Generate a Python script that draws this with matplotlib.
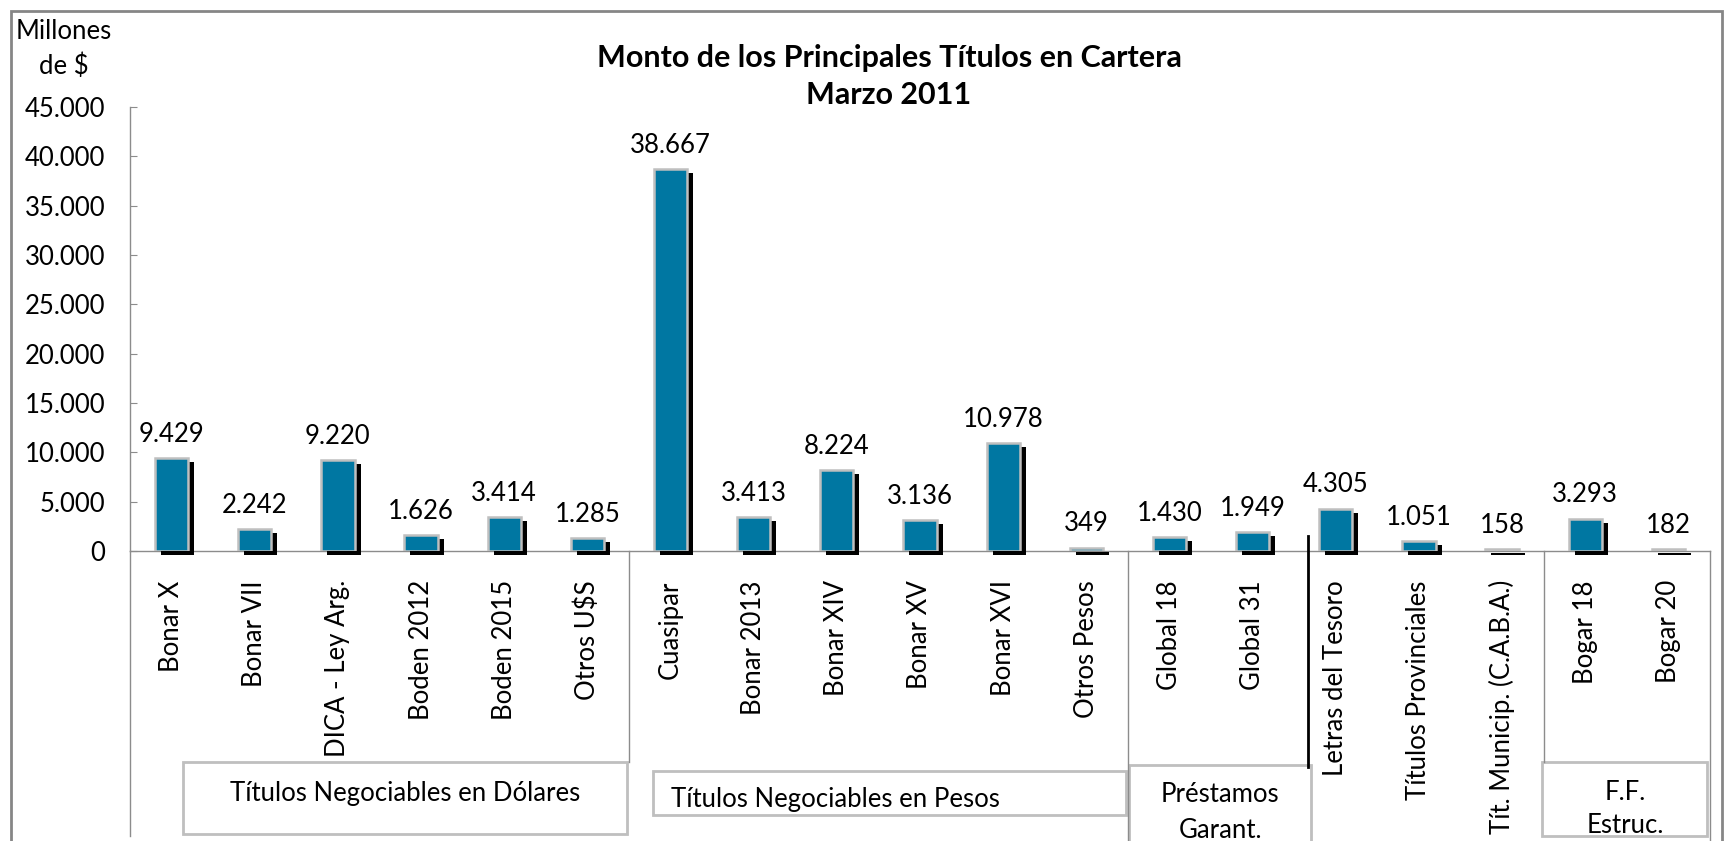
import numpy as np
import matplotlib.pyplot as plt
from matplotlib import transforms
from matplotlib.lines import Line2D
from matplotlib.patches import Rectangle
from matplotlib.ticker import FuncFormatter, MultipleLocator

titulos = [
    "Bonar X", "Bonar VII", "DICA - Ley Arg.", "Boden 2012", "Boden 2015",
    "Otros U$S", "Cuasipar", "Bonar 2013", "Bonar XIV", "Bonar XV",
    "Bonar XVI", "Otros Pesos", "Global 18", "Global 31", "Letras del Tesoro",
    "Títulos Provinciales", "Tít. Municip. (C.A.B.A.)", "Bogar 18", "Bogar 20",
]
montos = [
    9429, 2242, 9220, 1626, 3414, 1285, 38667, 3413, 8224, 3136,
    10978, 349, 1430, 1949, 4305, 1051, 158, 3293, 182,
]
grupos = [
    "Títulos Negociables en Dólares",
    "Títulos Negociables en Pesos",
    "Préstamos\nGarant.",
    "F.F.\nEstruc.",
]

W, H = 1725, 841
AZUL = "#0077A2"
GRIS = "#BFBFBF"
GRIS_OSC = "#8C8C8C"
FS = 18.5

plt.rcParams["font.family"] = ["Lato", "DejaVu Sans"]


def fx(px):
    return px / W


def fy(py):
    return 1 - py / H


def miles(v):
    return f"{v:,.0f}".replace(",", ".")


fig = plt.figure(figsize=(W / 100, H / 100), dpi=100)
ax = fig.add_axes([fx(130), fy(551), 1580 / W, 444 / H])

x = np.arange(len(titulos))

# sombra negra desplazada detras de cada barra
sombra = transforms.offset_copy(ax.transData, fig=fig, x=6, y=-4, units="dots")
ax.bar(x, montos, width=0.4, color="black", transform=sombra, zorder=2, clip_on=False)
ax.bar(x, montos, width=0.4, color=AZUL, edgecolor=GRIS, linewidth=1.8, zorder=3)

for xi, v in zip(x, montos):
    ax.annotate(miles(v), (xi, v), xytext=(0, 8), textcoords="offset points",
                ha="center", va="bottom", fontsize=FS)

ax.set_xlim(-0.5, len(titulos) - 0.5)
ax.set_ylim(0, 45000)
ax.yaxis.set_major_locator(MultipleLocator(5000))
ax.yaxis.set_major_formatter(FuncFormatter(lambda v, p: miles(v)))
ax.tick_params(axis="y", direction="in", length=5, color=GRIS_OSC, pad=18, labelsize=FS)
ax.set_xticks(x)
ax.set_xticklabels(titulos, rotation=90, fontsize=FS)
ax.tick_params(axis="x", length=0, pad=21)
for s in ["top", "right"]:
    ax.spines[s].set_visible(False)
for s in ["left", "bottom"]:
    ax.spines[s].set_color(GRIS_OSC)
    ax.spines[s].set_linewidth(1)
ax.spines["bottom"].set_zorder(1)

fig.text(fx(889), fy(58), "Monto de los Principales Títulos en Cartera",
         ha="center", va="center", fontsize=22, fontweight="bold")
fig.text(fx(889), fy(95), "Marzo 2011", ha="center", va="center",
         fontsize=22, fontweight="bold")
fig.text(fx(64), fy(49), "Millones\nde $", ha="center", va="center",
         multialignment="center", fontsize=FS, linespacing=1.5)

# marco exterior
fig.add_artist(Rectangle((fx(11), fy(850)), fx(1711), (850 - 11) / H,
                         transform=fig.transFigure, fill=False,
                         edgecolor="#868686", linewidth=2))

# lineas separadoras de grupos
mixta = transforms.blended_transform_factory(ax.transData, fig.transFigure)
fig.add_artist(Line2D([fx(130), fx(130)], [fy(551), fy(836)],
                      transform=fig.transFigure, color=GRIS_OSC, lw=1))
for xb, y_fin in [(5.5, 762), (11.5, 841), (16.5, 762), (18.5, 841)]:
    fig.add_artist(Line2D([xb, xb], [fy(551), fy(y_fin)], transform=mixta,
                          color=GRIS_OSC, lw=1))
fig.add_artist(Line2D([fx(1308), fx(1308)], [fy(536), fy(767)],
                      transform=fig.transFigure, color="black", lw=2))

# cajas con el nombre de cada grupo
cajas = [(183, 762, 627, 834), (653, 771, 1126, 815),
         (1129, 765, 1311, 860), (1542, 762, 1707, 836)]
for (x0, y0, x1, y1) in cajas:
    fig.add_artist(Rectangle((fx(x0), fy(y1)), (x1 - x0) / W, (y1 - y0) / H,
                             transform=fig.transFigure, facecolor="white",
                             edgecolor=GRIS, linewidth=2))

fig.text(fx(405), fy(793), grupos[0], ha="center", va="center", fontsize=FS)
fig.text(fx(671), fy(800), grupos[1], ha="left", va="center", fontsize=FS)
fig.text(fx(1220), fy(812), grupos[2], ha="center", va="center",
         multialignment="center", fontsize=FS, linespacing=1.55)
fig.text(fx(1625), fy(809), grupos[3], ha="center", va="center",
         multialignment="center", fontsize=FS, linespacing=1.42)

fig.savefig("out.png", dpi=100, facecolor="white")
